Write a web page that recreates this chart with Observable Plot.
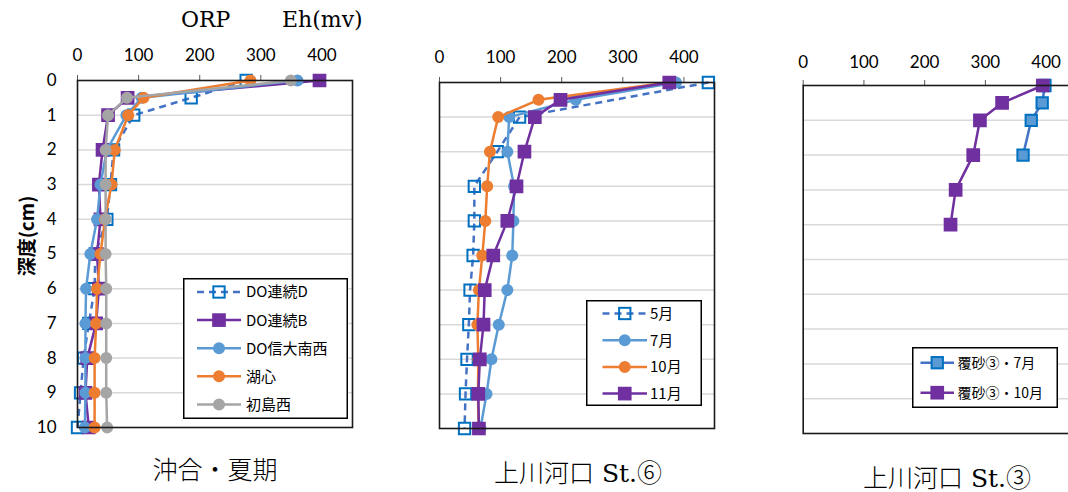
<!DOCTYPE html>
<html><head><meta charset="utf-8">
<script src="https://cdn.jsdelivr.net/npm/d3@7"></script>
<script src="https://cdn.jsdelivr.net/npm/@observablehq/plot@0.6"></script>
<style>
html,body{margin:0;padding:0;background:#fff;}
body{width:1068px;height:492px;overflow:hidden;position:relative;}
.abs{position:absolute;}
svg{max-width:none !important;}
.serif{font-family:"DejaVu Serif","Noto Sans CJK JP",serif;color:#000;white-space:nowrap;}
</style></head><body>
<div id="p1" class="abs" style="left:0;top:0;width:360px"></div>
<div id="p2" class="abs" style="left:380px;top:0;width:340px"></div>
<div id="p3" class="abs" style="left:760px;top:0;width:330px"></div>
<script>
// ---- data ----
const depthTicks = [0,1,2,3,4,5,6,7,8,9,10];
const gridDepths = [1,2,3,4,5,6,7,8,9];
const xTicks = [0,100,200,300,400];
const depthsFull = [0,0.5,1,2,3,4,5,6,7,8,9,10];
const depthsNoHalf = [0,1,2,3,4,5,6,7,8,9,10];

// 沖合・夏期
const okiNames = ["DO連続D","DO連続B","DO信大南西","湖心","初島西"];
const okiDOD   = [276,186,92,59,54,48,29,28,18.5,10,5,0];
const okiDOB   = [396,82,50,41,35,37.6,32,35,30.5,16,13,18.5];
const okiShin  = [360,105,80,48,37.6,32,21,14,13,13,13,12];
const okiKoshin= [283,108,83,61,55.6,45,37.6,32,30.5,28,28,28];
const okiHatsu = [349,81,50,46,46,46,46,47,47,47,47,48.5];

// 上川河口 St.⑥
const st6Names = ["5月","7月","10月","11月"];
const st6May = [440,131,94.5,57,57,55,50,48,45,42.6,41];          // depthsNoHalf
const st6Jul = [387,223,114,111,122,121,119,111,97,85,77,67];      // depthsFull
const st6Oct = [375,162,96,82.5,78,75,70,64.5,62,63.5,63,64];      // depthsFull
const st6Nov = [376,198,156,139,126,111,88,74,72,66,63.5,64.5];    // depthsFull

// 上川河口 St.③
const st3Names = ["覆砂③・7月","覆砂③・10月"];
const st3JulDepths = [0,0.5,1,2];
const st3Jul = [398,393.5,375.5,362];
const st3OctDepths = [0,0.5,1,2,3,4];
const st3Oct = [394.5,327.5,291,280,251,242.6];

// ---- styles ----
const C = {dod:"#4472C4", dodMark:"#0070C0", purple:"#7030A0", lblue:"#5B9BD5", orange:"#ED7D31", gray:"#A5A5A5"};
const styles = {
  dashedOpen: {line:C.dod, dash:"7,5", symbol:"square", stroke:C.dodMark, fill:"none", r:6.4},
  purpleSq:   {line:C.purple, symbol:"square", stroke:C.purple, fill:C.purple, r:6.6},
  blueDot:    {line:C.lblue, symbol:"circle", stroke:C.lblue, fill:C.lblue, r:5},
  orangeDot:  {line:C.orange, symbol:"circle", stroke:C.orange, fill:C.orange, r:5},
  grayDot:    {line:C.gray, symbol:"circle", stroke:C.gray, fill:C.gray, r:5},
  blueSq:     {line:C.dod, symbol:"square", stroke:C.dodMark, fill:C.lblue, r:6.4},
};

function toRows(vals, depths){ return vals.map((v,i)=>({v, d:depths[i]})); }

function seriesMarks(rows, s){
  return [
    Plot.line(rows, {x:"v", y:"d", stroke:s.line, strokeWidth:2.5, strokeDasharray:s.dash, strokeLinecap:"butt"}),
    Plot.dot(rows, {x:"v", y:"d", symbol:s.symbol, r:s.r, stroke:s.stroke, fill:s.fill, strokeWidth:2})
  ];
}

function panel({el, width, height, ml, mr, mt, mb, series, showY, pad}){
  const marks = [
    Plot.gridY(gridDepths, {stroke:"#d9d9d9", strokeOpacity:1, strokeWidth:1.5}),
    Plot.axisX({anchor:"top", ticks:xTicks, tickSize:6, tickPadding:pad, label:null, stroke:"#595959"}),
  ];
  if (showY) marks.push(Plot.axisY({ticks:depthTicks, tickSize:0, tickPadding:21, label:null}));
  for (const [rows, s] of series) marks.push(...seriesMarks(rows, s));
  marks.push(Plot.frame({stroke:"#1a1a1a", strokeWidth:1.6}));
  const chart = Plot.plot({
    width, height, marginLeft:ml, marginRight:mr, marginTop:mt, marginBottom:mb,
    x:{domain:[0,450], axis:null},
    y:{domain:[0,10], reverse:true, axis:null},
    style:{fontFamily:'Lato,"Open Sans",sans-serif', fontSize:"17px", color:"#000", background:"transparent", overflow:"visible", maxWidth:"none"},
    marks
  });
  document.getElementById(el).appendChild(chart);
}

panel({el:"p1", width:360, height:440, ml:77, mr:8, mt:80, mb:13, showY:true, pad:14, series:[
  [toRows(okiDOD, depthsFull), styles.dashedOpen],
  [toRows(okiDOB, depthsFull), styles.purpleSq],
  [toRows(okiShin, depthsFull), styles.blueDot],
  [toRows(okiKoshin, depthsFull), styles.orangeDot],
  [toRows(okiHatsu, depthsFull), styles.grayDot],
]});
panel({el:"p2", width:340, height:440, ml:59, mr:6, mt:82, mb:12, showY:false, pad:14, series:[
  [toRows(st6May, depthsNoHalf), styles.dashedOpen],
  [toRows(st6Jul, depthsFull), styles.blueDot],
  [toRows(st6Oct, depthsFull), styles.orangeDot],
  [toRows(st6Nov, depthsFull), styles.purpleSq],
]});
panel({el:"p3", width:330, height:445, ml:42.7, mr:14, mt:85, mb:12, showY:false, pad:12, series:[
  [toRows(st3Jul, st3JulDepths), styles.blueSq],
  [toRows(st3Oct, st3OctDepths), styles.purpleSq],
]});

// ---- legends ----
const NS = "http://www.w3.org/2000/svg";
function legend({left, top, w, h, items, y0, dy, x1, x2, tx, fontSize}){
  const svg = document.createElementNS(NS, "svg");
  svg.setAttribute("width", w); svg.setAttribute("height", h);
  svg.setAttribute("class","abs");
  svg.style.left = left+"px"; svg.style.top = top+"px";
  let html = `<rect x="0.75" y="0.75" width="${w-1.5}" height="${h-1.5}" fill="#fff" stroke="#000" stroke-width="1.5"/>`;
  items.forEach(([label, s], i)=>{
    const y = y0 + i*dy, cx = (x1+x2)/2;
    html += `<line x1="${x1}" x2="${x2}" y1="${y}" y2="${y}" stroke="${s.line}" stroke-width="2.5" ${s.dash?`stroke-dasharray="${s.dash}"`:""}/>`;
    if (s.symbol === "square") {
      const a = s.r*1.77;
      html += `<rect x="${cx-a/2}" y="${y-a/2}" width="${a}" height="${a}" fill="${s.fill}" stroke="${s.stroke}" stroke-width="2"/>`;
    } else {
      html += `<circle cx="${cx}" cy="${y}" r="${s.r}" fill="${s.fill}" stroke="${s.stroke}" stroke-width="2"/>`;
    }
    html += `<text x="${tx}" y="${y}" dy="0.36em" font-family='"Noto Sans CJK JP",sans-serif' font-size="${fontSize}" fill="#000">${label}</text>`;
  });
  svg.innerHTML = html;
  document.body.appendChild(svg);
}
legend({left:183, top:278, w:165, h:141, y0:14, dy:28.1, x1:14, x2:58, tx:63, fontSize:15,
  items: okiNames.map((n,i)=>[n, [styles.dashedOpen, styles.purpleSq, styles.blueDot, styles.orangeDot, styles.grayDot][i]])});
legend({left:586, top:300, w:116, h:106, y0:13.5, dy:26.7, x1:16.5, x2:61, tx:64, fontSize:15,
  items: st6Names.map((n,i)=>[n, [styles.dashedOpen, styles.blueDot, styles.orangeDot, styles.purpleSq][i]])});
legend({left:912, top:347, w:146, h:61, y0:15.7, dy:30, x1:8.5, x2:42, tx:45.5, fontSize:14,
  items: st3Names.map((n,i)=>[n, [styles.blueSq, styles.purpleSq][i]])});

// ---- texts ----
function addText(txt, left, top, size, extra=""){
  const d = document.createElement("div");
  d.className = "abs serif";
  d.style.cssText += `left:${left}px;top:${top}px;font-size:${size}px;line-height:1;${extra}`;
  d.textContent = txt;
  document.body.appendChild(d);
  return d;
}
addText("ORP", 181, 9, 22);
addText("Eh(mv)", 282, 9, 22);
function centered(txt, cx, top, size){
  const d = addText(txt, 0, top, size, "font-weight:300;");
  d.style.left = (cx - d.offsetWidth/2) + "px";
}
centered("沖合・夏期", 215, 458, 25);
centered("上川河口 St.⑥", 578, 461, 25);
centered("上川河口 St.③", 947, 466, 25);
const yl = document.createElement("div");
yl.className = "abs";
yl.style.cssText = 'left:25px;top:236px;transform:translate(-50%,-50%) rotate(-90deg);font-family:"Noto Sans CJK JP",sans-serif;font-size:19px;font-weight:bold;white-space:nowrap;color:#000;';
yl.textContent = "深度(cm)";
document.body.appendChild(yl);
</script>
</body></html>
